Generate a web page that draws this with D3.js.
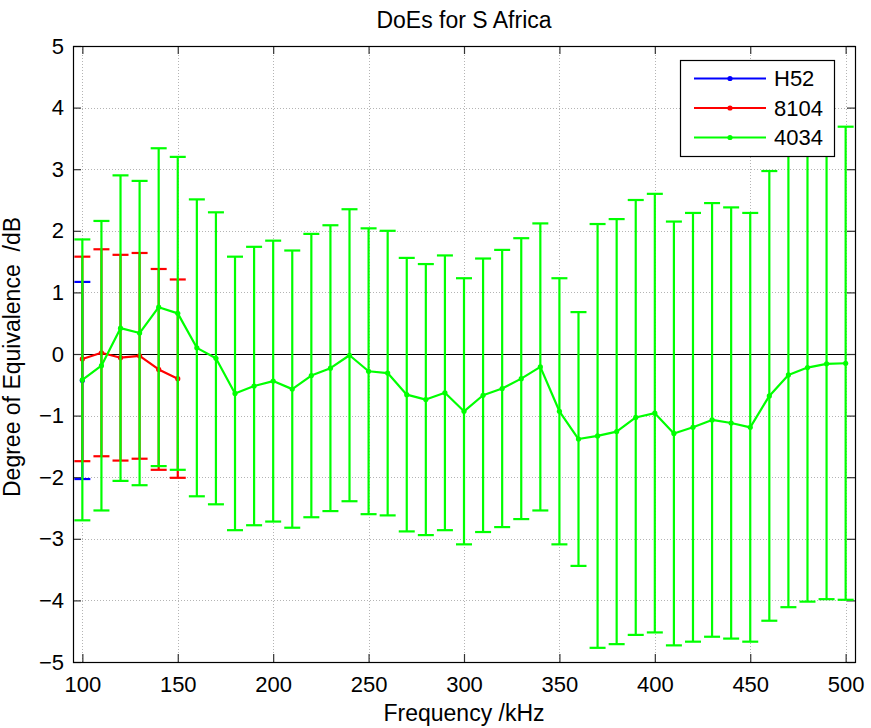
<!DOCTYPE html>
<html>
<head>
<meta charset="utf-8">
<script src="https://cdn.jsdelivr.net/npm/d3@7"></script>
<style>
  html, body { margin: 0; padding: 0; background: #fff; }
  svg { display: block; font-family: "Liberation Sans", Arial, Helvetica, sans-serif; }
</style>
</head>
<body>
<svg id="chart" width="871" height="728"></svg>
<script>
// Degrees of equivalence (dB) with expanded uncertainties, per laboratory
const seriesNames = ["H52", "8104", "4034"];
const seriesColors = ["#0000ff", "#ff0000", "#00ff00"];

const freqH52 = [100];
const doeH52 = [-0.43];
const uH52 = [1.60];

const freq8104 = [100, 110, 120, 130, 140, 150];
const doe8104 = [-0.08, 0.02, -0.06, -0.03, -0.25, -0.40];
const u8104 = [1.66, 1.68, 1.67, 1.67, 1.63, 1.61];

const freq4034 = [100, 110, 120, 130, 140, 150, 160, 170, 180, 190,
                  200, 210, 220, 230, 240, 250, 260, 270, 280, 290,
                  300, 310, 320, 330, 340, 350, 360, 370, 380, 390,
                  400, 410, 420, 430, 440, 450, 460, 470, 480, 490, 500];
const doe4034 = [-0.42, -0.19, 0.42, 0.34, 0.76, 0.66, 0.10, -0.07, -0.64, -0.52,
                 -0.44, -0.57, -0.35, -0.23, -0.02, -0.28, -0.31, -0.66, -0.74, -0.63,
                 -0.93, -0.67, -0.56, -0.40, -0.21, -0.93, -1.38, -1.33, -1.26, -1.03,
                 -0.96, -1.29, -1.19, -1.07, -1.12, -1.19, -0.68, -0.34, -0.22, -0.16, -0.15];
const u4034 = [2.28, 2.35, 2.48, 2.47, 2.58, 2.54, 2.41, 2.37, 2.22, 2.26,
               2.28, 2.25, 2.30, 2.32, 2.37, 2.32, 2.31, 2.22, 2.20, 2.23,
               2.16, 2.22, 2.25, 2.28, 2.33, 2.16, 2.06, 3.44, 3.45, 3.53,
               3.56, 3.44, 3.48, 3.52, 3.50, 3.48, 3.65, 3.77, 3.80, 3.82, 3.84];

const xTicks = [100, 150, 200, 250, 300, 350, 400, 450, 500];
const yTicks = [-5, -4, -3, -2, -1, 0, 1, 2, 3, 4, 5];

const series = [
  { name: seriesNames[0], color: seriesColors[0], f: freqH52, d: doeH52, u: uH52 },
  { name: seriesNames[1], color: seriesColors[1], f: freq8104, d: doe8104, u: u8104 },
  { name: seriesNames[2], color: seriesColors[2], f: freq4034, d: doe4034, u: u4034 }
];

const svg = d3.select("#chart");
const plotL = 73, plotR = 855, plotT = 46, plotB = 662;
const fontSize = 22;

const x = d3.scaleLinear().domain([95.1, 504.9]).range([plotL, plotR]);
const y = d3.scaleLinear().domain([-5, 5]).range([plotB, plotT]);

// dotted grid
const grid = svg.append("g").attr("stroke", "#b4b4b4").attr("stroke-width", 1)
  .attr("stroke-dasharray", "1,2");
grid.selectAll("line.gx").data(xTicks).join("line")
  .attr("x1", d => Math.round(x(d)) + 0.5).attr("x2", d => Math.round(x(d)) + 0.5)
  .attr("y1", plotT).attr("y2", plotB);
grid.selectAll("line.gy").data(yTicks.filter(d => d !== 0)).join("line")
  .attr("x1", plotL).attr("x2", plotR)
  .attr("y1", d => Math.round(y(d)) + 0.5).attr("y2", d => Math.round(y(d)) + 0.5);

// zero reference line
svg.append("line")
  .attr("x1", plotL).attr("x2", plotR)
  .attr("y1", Math.round(y(0)) + 0.5).attr("y2", Math.round(y(0)) + 0.5)
  .attr("stroke", "#000").attr("stroke-width", 1.2);

// axes with inward ticks on all four sides
const tickLen = 8;
const axisBottom = d3.axisBottom(x).tickValues(xTicks).tickSize(-tickLen).tickPadding(14).tickFormat(d3.format("d"));
const axisTop = d3.axisTop(x).tickValues(xTicks).tickSize(-tickLen).tickFormat("");
const axisLeft = d3.axisLeft(y).tickValues(yTicks).tickSize(-tickLen).tickPadding(9).tickFormat(d3.format("d"));
const axisRight = d3.axisRight(y).tickValues(yTicks).tickSize(-tickLen).tickFormat("");

function styleAxis(g) {
  g.select(".domain").remove();
  g.selectAll(".tick line").attr("stroke", "#333").attr("stroke-width", 1.2);
  g.selectAll(".tick text").attr("fill", "#000").style("font-size", fontSize + "px")
    .style("font-family", "'Liberation Sans', Arial, sans-serif");
}
svg.append("g").attr("transform", `translate(0,${plotB})`).call(axisBottom).call(styleAxis);
svg.append("g").attr("transform", `translate(0,${plotT})`).call(axisTop).call(styleAxis);
svg.append("g").attr("transform", `translate(${plotL},0)`).call(axisLeft).call(styleAxis);
svg.append("g").attr("transform", `translate(${plotR},0)`).call(axisRight).call(styleAxis);

// error bars, connecting lines and point markers, last series on top
const capHalf = 8;
const line = d3.line().x(d => x(d.f)).y(d => y(d.d));
series.forEach(s => {
  const pts = s.f.map((f, i) => ({ f, d: s.d[i], u: s.u[i] }));
  const g = svg.append("g").attr("stroke", s.color).attr("stroke-width", 2.2).attr("fill", "none");
  g.selectAll("line.v").data(pts).join("line")
    .attr("x1", d => x(d.f)).attr("x2", d => x(d.f))
    .attr("y1", d => y(d.d + d.u)).attr("y2", d => y(d.d - d.u));
  g.selectAll("line.cu").data(pts).join("line")
    .attr("x1", d => x(d.f) - capHalf).attr("x2", d => x(d.f) + capHalf)
    .attr("y1", d => y(d.d + d.u)).attr("y2", d => y(d.d + d.u));
  g.selectAll("line.cl").data(pts).join("line")
    .attr("x1", d => x(d.f) - capHalf).attr("x2", d => x(d.f) + capHalf)
    .attr("y1", d => y(d.d - d.u)).attr("y2", d => y(d.d - d.u));
  g.append("path").datum(pts).attr("d", line).attr("stroke-linejoin", "round");
  svg.append("g").selectAll("circle").data(pts).join("circle")
    .attr("cx", d => x(d.f)).attr("cy", d => y(d.d)).attr("r", 2.6)
    .attr("fill", s.color);
});

// plot frame
svg.append("rect").attr("x", plotL + 0.5).attr("y", plotT + 0.5)
  .attr("width", plotR - plotL).attr("height", plotB - plotT)
  .attr("fill", "none").attr("stroke", "#000").attr("stroke-width", 1.2);

// legend
const lg = svg.append("g");
lg.append("rect").attr("x", 680.5).attr("y", 60.5).attr("width", 154).attr("height", 96)
  .attr("fill", "#fff").attr("stroke", "#000").attr("stroke-width", 1.2);
series.forEach((s, i) => {
  const yy = 78.5 + i * 29.5;
  lg.append("line").attr("x1", 694).attr("x2", 766).attr("y1", yy).attr("y2", yy)
    .attr("stroke", s.color).attr("stroke-width", 2.2);
  lg.append("circle").attr("cx", 730).attr("cy", yy).attr("r", 2.6).attr("fill", s.color);
  lg.append("text").attr("x", 774).attr("y", yy).attr("dy", "0.36em")
    .style("font-size", fontSize + "px").text(s.name);
});

// title and axis labels
svg.append("text").attr("x", (plotL + plotR) / 2).attr("y", 28).attr("text-anchor", "middle")
  .style("font-size", "23px").text("DoEs for S Africa");
svg.append("text").attr("x", (plotL + plotR) / 2).attr("y", 721).attr("text-anchor", "middle")
  .style("font-size", "23px").text("Frequency /kHz");
svg.append("text").attr("transform", `translate(20,357) rotate(-90)`)
  .attr("text-anchor", "middle").style("font-size", "23px").style("white-space", "pre")
  .text("Degree of Equivalence  /dB");
</script>
</body>
</html>
